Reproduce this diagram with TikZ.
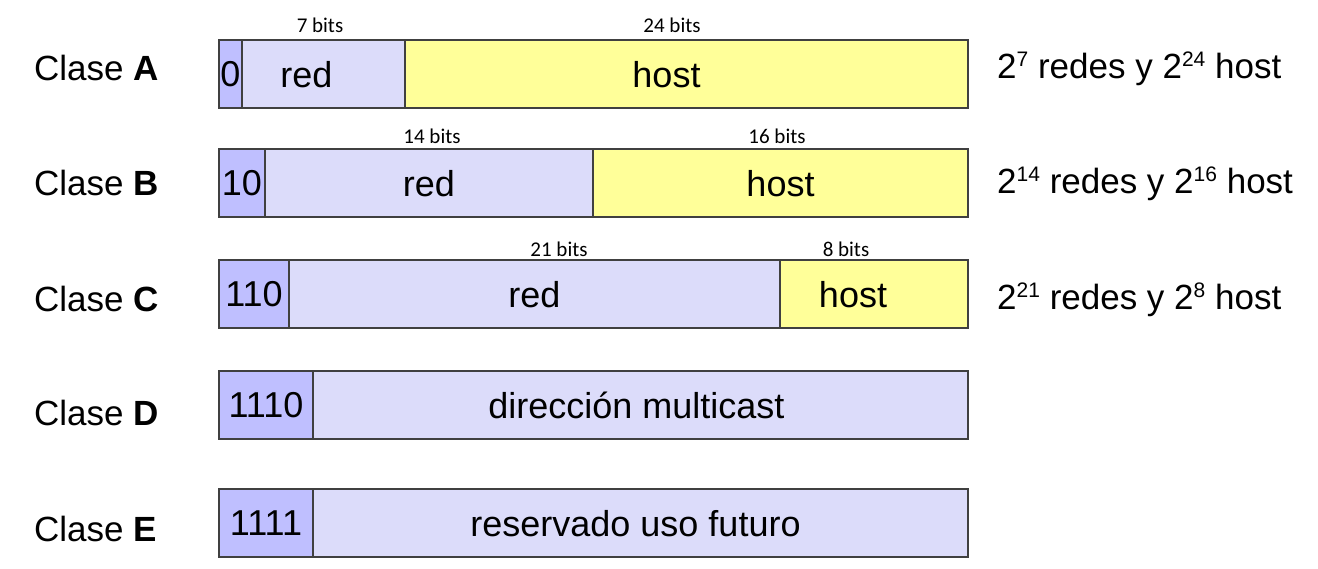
\documentclass[tikz,border=0pt]{standalone}
\usepackage{fontspec}
\setmainfont{Liberation Sans}
\newfontfamily\bitsfont{Carlito}
\usepackage{xcolor}
\usetikzlibrary{positioning}
\definecolor{prefblue}{RGB}{191,191,255}
\definecolor{redblue}{RGB}{220,220,250}
\definecolor{hostyellow}{RGB}{255,255,153}
\definecolor{edgegray}{RGB}{64,64,64}
\newcommand{\pw}[1]{\raisebox{12pt}{\fontsize{21}{21}\selectfont #1}}
\newcommand{\padr}[1]{\hspace*{#1}\mbox{}}

\begin{document}
\begin{tikzpicture}[
    x=1pt, y=-1pt,
    node distance=0pt,
    fieldbox/.style={rectangle, draw=edgegray, line width=1.2pt, minimum height=68pt, inner sep=0pt, outer sep=0pt, text depth=0pt, font=\fontsize{36}{40}\selectfont},
    prefbox/.style={fieldbox, fill=prefblue, anchor=north west},
    netbox/.style={fieldbox, fill=redblue},
    hostbox/.style={fieldbox, fill=hostyellow},
    bitslabel/.style={font=\bitsfont\fontsize{21}{24}\selectfont, inner sep=0pt},
    classlabel/.style={anchor=west, inner sep=0pt, font=\fontsize{35}{38}\selectfont},
    countlabel/.style={anchor=base west, inner sep=0pt, font=\fontsize{35}{38}\selectfont}
]
\useasboundingbox (0,0) rectangle (1318,569);

% Clase A
\node[classlabel] (cA) at (34,68) {Clase \textbf{A}};
\node[prefbox, minimum width=23pt] (pA) at (219,40) {0};
\node[netbox, minimum width=163pt, right=of pA] (nA) {red\padr{34pt}};
\node[hostbox, minimum width=563pt, right=of nA] (hA) {host\padr{40pt}};
\node[bitslabel] (bnA) at (320,25) {7 bits};
\node[bitslabel] (bhA) at (672,25) {24 bits};
\node[countlabel] (rA) at (997,79) {2\pw{7} redes y 2\pw{24} host};

% Clase B
\node[classlabel] (cB) at (34,183) {Clase \textbf{B}};
\node[prefbox, minimum width=46pt] (pB) at (219,149) {10};
\node[netbox, minimum width=328pt, right=of pB] (nB) {red};
\node[hostbox, minimum width=375pt, right=of nB] (hB) {host};
\node[bitslabel] (bnB) at (432,136) {14 bits};
\node[bitslabel] (bhB) at (777,136) {16 bits};
\node[countlabel] (rB) at (997,194) {2\pw{14} redes y 2\pw{16} host};

% Clase C
\node[classlabel] (cC) at (34,299) {Clase \textbf{C}};
\node[prefbox, minimum width=70pt] (pC) at (219,260) {110};
\node[netbox, minimum width=491pt, right=of pC] (nC) {red};
\node[hostbox, minimum width=188pt, right=of nC] (hC) {host\padr{42pt}};
\node[bitslabel] (bnC) at (559,249) {21 bits};
\node[bitslabel] (bhC) at (846,249) {8 bits};
\node[countlabel] (rC) at (997,310) {2\pw{21} redes y 2\pw{8} host};

% Clase D
\node[classlabel] (cD) at (34,413) {Clase \textbf{D}};
\node[prefbox, minimum width=94pt] (pD) at (219,371) {1110};
\node[netbox, minimum width=655pt, right=of pD] (mD) {dirección multicast\padr{8pt}};

% Clase E
\node[classlabel] (cE) at (34,529) {Clase \textbf{E}};
\node[prefbox, minimum width=94pt] (pE) at (219,489) {1111};
\node[netbox, minimum width=655pt, right=of pE] (mE) {reservado uso futuro\padr{10pt}};

\end{tikzpicture}
\end{document}
